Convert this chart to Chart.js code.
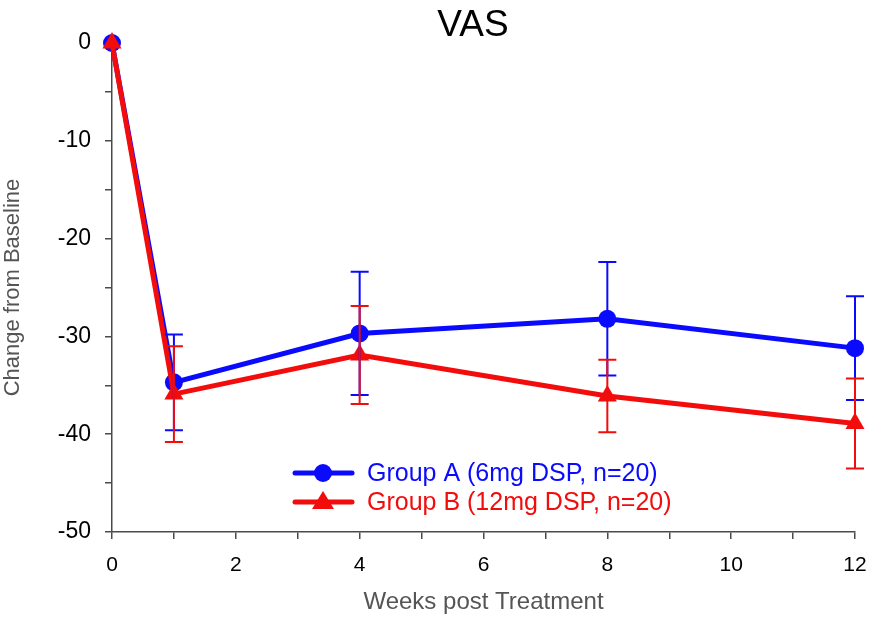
<!DOCTYPE html>
<html>
<head>
<meta charset="utf-8">
<script src="https://cdn.jsdelivr.net/npm/chart.js@4.4.1/dist/chart.umd.min.js"></script>
<style>
  html, body { margin: 0; padding: 0; background: #fff; }
  #wrap { width: 873px; height: 618px; }
</style>
</head>
<body>
<div id="wrap"><canvas id="chart" width="873" height="618"></canvas></div>
<script>
// weeks post treatment
const weeks = [0, 1, 4, 8, 12];

const groupAMean = [0, -34.7, -29.7, -28.2, -31.2];
const groupAErr = [0, 4.9, 6.3, 5.8, 5.3];

const groupBMean = [0, -35.9, -31.9, -36.1, -38.9];
const groupBErr = [0, 4.9, 5.0, 3.7, 4.6];

const seriesLabels = ["Group A (6mg DSP, n=20)", "Group B (12mg DSP, n=20)"];

const BLUE = "#0a0aff";
const RED = "#f20c0c";
const FONT = "'Liberation Sans', Arial, sans-serif";

const toPoints = (xs, ys) => xs.map((v, i) => ({ x: v, y: ys[i] }));

// error bars, drawn on top of the lines
const errorBars = {
    id: "errorBars",
    afterDatasetsDraw(chart) {
        const { ctx, scales: { x, y } } = chart;
        chart.data.datasets.forEach((ds) => {
            ctx.save();
            ctx.strokeStyle = ds.borderColor;
            ctx.lineWidth = 2;
            ds.data.forEach((p, i) => {
                const e = ds.errors[i];
                if (!e) return;
                const px = x.getPixelForValue(p.x);
                const top = y.getPixelForValue(p.y + e);
                const bot = y.getPixelForValue(p.y - e);
                ctx.beginPath();
                ctx.moveTo(px, top);
                ctx.lineTo(px, bot);
                ctx.moveTo(px - 9, top);
                ctx.lineTo(px + 9, top);
                ctx.moveTo(px - 9, bot);
                ctx.lineTo(px + 9, bot);
                ctx.stroke();
            });
            ctx.restore();
        });
    }
};

// title + legend inside the plot
const overlay = {
    id: "overlay",
    afterDraw(chart) {
        const { ctx } = chart;
        ctx.save();
        ctx.fillStyle = "#000";
        ctx.font = "37px " + FONT;
        ctx.textAlign = "center";
        ctx.textBaseline = "middle";
        ctx.fillText("VAS", 473, 26);

        const rows = [
            { y: 473, color: BLUE, shape: "circle", label: seriesLabels[0] },
            { y: 502, color: RED, shape: "triangle", label: seriesLabels[1] }
        ];
        rows.forEach((r) => {
            ctx.strokeStyle = r.color;
            ctx.fillStyle = r.color;
            ctx.lineWidth = 5;
            ctx.lineCap = "round";
            ctx.beginPath();
            ctx.moveTo(295, r.y);
            ctx.lineTo(352, r.y);
            ctx.stroke();
            ctx.beginPath();
            if (r.shape === "circle") {
                ctx.arc(323, r.y, 9, 0, Math.PI * 2);
            } else {
                ctx.moveTo(323, r.y - 11);
                ctx.lineTo(334, r.y + 7);
                ctx.lineTo(312, r.y + 7);
                ctx.closePath();
            }
            ctx.fill();
            ctx.font = "25px " + FONT;
            ctx.textAlign = "left";
            ctx.textBaseline = "middle";
            ctx.fillText(r.label, 367, r.y + 1);
        });
        ctx.restore();
    }
};

const ctx = document.getElementById("chart").getContext("2d");
new Chart(ctx, {
    type: "line",
    data: {
        datasets: [
            {
                label: seriesLabels[0],
                data: toPoints(weeks, groupAMean),
                errors: groupAErr,
                borderColor: BLUE,
                backgroundColor: BLUE,
                borderWidth: 5,
                pointStyle: "circle",
                pointRadius: 9,
                pointBorderWidth: 0,
                order: 1
            },
            {
                label: seriesLabels[1],
                data: toPoints(weeks, groupBMean),
                errors: groupBErr,
                borderColor: RED,
                backgroundColor: RED,
                borderWidth: 5,
                pointStyle: "triangle",
                pointRadius: 11,
                pointBorderWidth: 0,
                order: 0
            }
        ]
    },
    options: {
        responsive: false,
        animation: false,
        clip: false,
        layout: { padding: { top: 43, right: 18, left: 0, bottom: 0 } },
        plugins: {
            legend: { display: false },
            tooltip: { enabled: false },
            title: { display: false }
        },
        scales: {
            x: {
                type: "linear",
                min: 0,
                max: 12,
                afterFit: (s) => {
                    s.height = 86;
                    s.paddingLeft = 0;
                    s.paddingRight = 0;
                },
                grid: { drawOnChartArea: false, drawTicks: true, tickLength: 7, color: "#4a4a4a", lineWidth: 1.5 },
                border: { display: true, color: "#4a4a4a", width: 1.5 },
                ticks: {
                    stepSize: 1,
                    color: "#000",
                    padding: 14,
                    maxRotation: 0,
                    autoSkip: false,
                    font: { family: FONT, size: 21 },
                    callback: (v) => (v % 2 === 0 ? v : "")
                },
                title: {
                    display: true,
                    text: "Weeks post Treatment",
                    color: "#555",
                    font: { family: FONT, size: 24 },
                    padding: { top: 0, bottom: 1 }
                }
            },
            y: {
                type: "linear",
                min: -50,
                max: 0,
                afterFit: (s) => { s.width = 112; },
                grid: { drawOnChartArea: false, drawTicks: true, tickLength: 7, color: "#4a4a4a", lineWidth: 1.5 },
                border: { display: true, color: "#4a4a4a", width: 1.5 },
                ticks: {
                    stepSize: 5,
                    color: "#000",
                    padding: 14,
                    autoSkip: false,
                    font: { family: FONT, size: 23 },
                    callback: (v) => (v % 10 === 0 ? v : "")
                },
                title: {
                    display: true,
                    text: "Change from Baseline",
                    color: "#555",
                    font: { family: FONT, size: 22 },
                    padding: { top: 0, bottom: 10 }
                }
            }
        }
    },
    plugins: [errorBars, overlay]
});
</script>
</body>
</html>
